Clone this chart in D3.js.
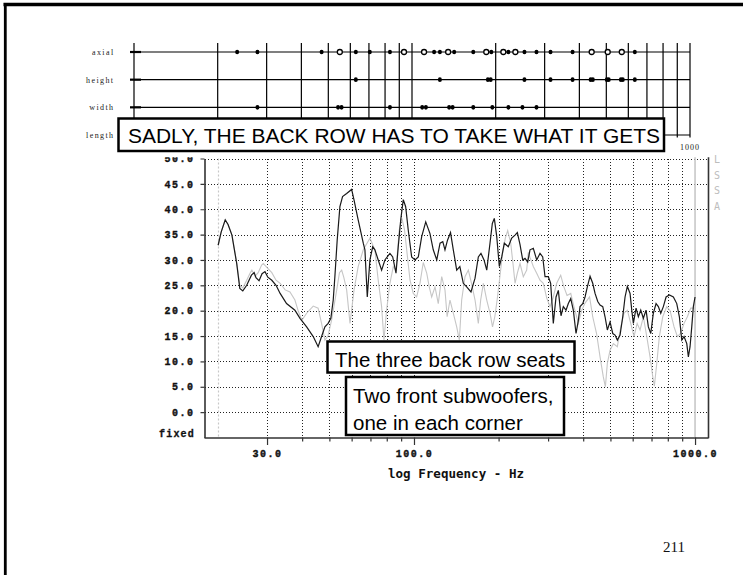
<!DOCTYPE html>
<html><head><meta charset="utf-8">
<script src="https://cdn.jsdelivr.net/npm/d3@7"></script>
<style>body{margin:0;background:#fff}svg{display:block}</style>
</head><body>
<svg id="c" width="743" height="575"></svg>
<script>
// ---------- DATA ----------
const modeRows = ["axial", "height", "width", "length"];
const modeGridFreqs = [10, 20, 30, 40, 50, 60, 70, 80, 90, 100, 200, 300, 400, 500, 600, 700, 800, 900, 1000];
const axialFilled = [23.5, 27.8, 47.3, 62.8, 70.5, 83.3, 120.1, 126.0, 141.8, 166.1, 192.9, 222.2, 253.8, 280.4, 315.0, 378.1, 633.1];
const axialOpen = [55.0, 93.6, 110.5, 134.9, 185.0, 213.1, 235.4, 442.9, 505.8, 568.3];
const heightFilled = [62.8, 126.0, 187.5, 191.9, 253.8, 315.0, 378.1, 439, 447, 502, 510, 564, 573, 633.1];
const widthFilled = [27.8, 54.2, 55.8, 83.3, 108.8, 112.2, 136, 140, 166.1, 194.5, 222.2, 249.6, 280.4];
const lengthFilled = [];

// dark trace: [frequency Hz, level dB]
const darkTrace = [[20.1,32.9],[20.6,35.5],[21.3,37.9],[21.8,37.0],[22.5,34.9],[23.4,29.3],[24.0,24.4],[24.6,23.9],[25.4,25.0],[26.4,27.0],[27.0,27.5],[27.4,26.5],[28.1,25.9],[28.8,27.3],[29.5,27.7],[30.2,26.6],[31.2,26.0],[32.3,25.0],[33.4,23.4],[35.2,21.4],[37.7,20.1],[39.3,18.5],[41.5,16.8],[43.8,14.9],[45.6,12.9],[46.9,14.9],[48.2,16.8],[49.5,17.5],[50.6,18.5],[51.6,22.1],[52.3,26.7],[53.3,33.9],[54.5,40.5],[55.7,42.5],[57.6,43.1],[60.0,43.9],[61.2,41.8],[63.3,37.9],[66.0,33.3],[66.9,32.0],[68.2,22.7],[69.7,30.0],[71.3,32.6],[72.6,32.0],[74.6,30.0],[76.7,28.0],[78.8,30.0],[82.1,31.3],[84.0,30.6],[86.3,27.4],[87.9,32.6],[89.7,37.9],[91.6,41.9],[93.4,40.5],[95.4,35.9],[98.1,30.6],[100.8,30.0],[103.6,30.6],[106.5,34.6],[110.1,37.5],[114,35.2],[117.1,32.0],[120.5,30.0],[123.8,33.3],[126.6,33.6],[128.9,32.0],[131.6,33.9],[134.9,35.4],[138,32.0],[141.9,28.0],[145.6,28.7],[149.8,25.4],[154,24.7],[159.5,23.7],[164.9,26.4],[169.4,30.6],[173.1,31.3],[177.5,30.0],[181.5,28.0],[186.4,33.3],[190,37.2],[193.1,38.2],[197,34.6],[201.2,28.7],[205.2,30.6],[209.6,33.3],[216.5,32.6],[222.7,34.3],[228.8,34.9],[233.2,35.4],[238.4,33.0],[243.7,30.0],[248.3,30.3],[253.9,29.6],[258.7,32.0],[265.8,32.3],[273.3,30.0],[280.8,31.3],[287.1,30.6],[292.6,26.7],[300.6,26.7],[306.4,25.4],[313.1,17.5],[320.2,22.7],[326.3,24.0],[333.5,19.0],[339.9,20.8],[347.5,20.1],[354.1,21.4],[361.2,22.4],[368.9,20.1],[377.2,15.5],[384.4,18.1],[389.8,20.8],[398.5,21.4],[406.1,22.7],[413.8,24.7],[423.1,26.8],[432.5,25.4],[440.8,23.4],[450.6,21.8],[459.2,21.1],[469.5,20.8],[478.4,18.8],[487.5,16.2],[498.4,17.8],[509.6,15.5],[519.3,15.2],[529.1,14.2],[541,15.2],[553.1,18.8],[563.6,22.7],[574.3,24.8],[587.2,23.4],[595.4,20.1],[603.3,17.5],[616.8,20.5],[628.5,18.8],[640.9,20.1],[654.8,18.5],[669.4,20.1],[682.2,16.8],[695.8,15.5],[710.6,19.5],[726.6,21.4],[740.4,20.8],[755.1,19.5],[771.4,20.8],[788.7,22.7],[810.3,23.1],[837.3,22.7],[860.9,21.4],[879.5,18.8],[896.9,14.2],[914,14.9],[934.5,13.5],[946.8,10.9],[959.9,12.9],[973.4,16.8],[986.2,20.8],[1000,22.7]];

// light trace: [frequency Hz, level dB]
const lightTrace = [[20.1,32.9],[20.6,35.5],[21.3,37.9],[21.8,37.0],[22.5,35.0],[23.4,29.5],[24.0,25.0],[24.6,24.5],[25.4,26.0],[26.1,27.4],[26.5,28.0],[27.2,26.8],[27.9,27.5],[28.7,29.0],[29.1,29.3],[29.9,28.6],[31.2,27.5],[32.3,26.0],[33.4,25.4],[34.8,24.1],[36.2,23.7],[37.7,22.1],[38.7,20.0],[39.9,18.1],[41.5,19.5],[43.8,20.9],[45.6,20.5],[46.9,17.5],[48.2,14.2],[49.4,15.0],[50.9,18.1],[53.1,24.1],[54.3,27.5],[55.3,28.0],[56.3,26.5],[57.6,24.1],[59.2,17.5],[61.2,24.1],[63.3,28.7],[66.0,32.0],[69.7,34.3],[72.6,32.0],[74.6,26.0],[76.7,20.8],[78.2,14.2],[79.9,20.1],[82.1,25.4],[84.4,28.7],[86.3,28.0],[88.6,35.9],[90.6,38.2],[92.5,36.0],[94.2,32.0],[96.8,26.0],[99.4,23.4],[102.2,22.7],[105,25.4],[107.9,29.5],[111,27.4],[113.3,24.7],[115.6,22.7],[118.8,24.7],[122,21.4],[125.5,26.7],[128.9,24.1],[131.2,18.8],[134.3,22.1],[138,19.5],[141.9,16.8],[145,14.2],[147.8,22.1],[151.9,26.7],[156.1,28.0],[160.2,25.4],[164.9,22.1],[169.4,17.5],[172.7,22.1],[176.5,25.4],[181.5,22.1],[186.4,19.5],[190.3,16.8],[193.9,18.8],[197.6,22.1],[202.1,26.7],[206.6,31.3],[211.3,34.3],[215.5,35.8],[220.9,33.3],[225.6,28.7],[228.8,25.4],[233.2,27.4],[238.4,29.3],[244.9,26.7],[251.8,28.0],[255.1,31.5],[258.7,30.5],[265.8,28.7],[273.3,27.4],[280.8,26.0],[288.5,25.4],[296.7,22.5],[304.8,20.8],[312.4,22.5],[321.9,25.4],[332.7,27.0],[341.5,24.7],[350.4,23.0],[361.2,23.4],[370.8,20.8],[384.4,17.5],[395.2,20.1],[406.1,21.5],[421.4,22.7],[432.5,18.8],[446.3,15.5],[459.2,10.9],[471.5,7.0],[479.7,5.0],[487.5,9.6],[498.4,12.2],[512.1,13.5],[529.1,12.9],[544.1,16.8],[559,19.5],[574.3,20.1],[590.5,17.5],[606.5,14.9],[622.3,17.5],[637.3,16.2],[654.8,18.8],[673.4,14.9],[691.7,10.9],[707.2,7.0],[716.5,5.1],[730.8,9.6],[746.5,14.9],[767.7,18.8],[793.1,20.8],[815,20.0],[842,16.8],[865.2,14.9],[888.3,15.5],[914,17.5],[939.1,18.8],[965.4,20.5],[992,20.5]];

const yTickValues = [0, 5, 10, 15, 20, 25, 30, 35, 40, 45, 50];
const xTickValues = [30, 40, 50, 60, 70, 80, 90, 100, 200, 300, 400, 500, 600, 700, 800, 900, 1000];
const xMajorTicks = [30, 100, 1000];
const xMajorLabels = ["30.0", "100.0", "1000.0"];
const gridFreqs = [30, 40, 50, 60, 70, 80, 90, 100, 200, 300, 400, 500, 600, 700, 800, 900];
const refLowFreq = 20;
const refHighFreq = 1000;
const sideLetters = ["L", "S", "S", "A"];
const titleText = "SADLY, THE BACK ROW HAS TO TAKE WHAT IT GETS";
const note1 = "The three back row seats";
const note2 = ["Two front subwoofers,", "one in each corner"];
const xTitle = "log Frequency - Hz";
const pageNumber = "211";

// ---------- DRAW ----------
const W = 743, H = 575;
const svg = d3.select("#c");
const monoBold = "'Liberation Mono','DejaVu Sans Mono',monospace";

const x = d3.scaleLog().domain([17.9, 1112]).range([204, 708]);
const y = d3.scaleLinear().domain([-5, 50]).range([437.5, 158.5]);
const xm = d3.scaleLog().domain([10, 1000]).range([134, 690]);
const ym = d3.scalePoint().domain(modeRows).range([52, 135]);

// page border (top + left)
svg.append("line").attr("x1", 3.5).attr("x2", W).attr("y1", 4.5).attr("y2", 4.5)
  .attr("stroke", "#000").attr("stroke-width", 3.5);
svg.append("line").attr("x1", 5.3).attr("x2", 5.3).attr("y1", 3).attr("y2", H)
  .attr("stroke", "#000").attr("stroke-width", 2.8);

const defs = svg.append("defs");
defs.append("clipPath").attr("id", "clipTop").append("rect")
  .attr("x", 0).attr("y", 157.2).attr("width", W).attr("height", H - 157.2);

const g = svg.append("g").attr("clip-path", "url(#clipTop)");

// horizontal dotted grid
g.append("g").selectAll("line").data(yTickValues).join("line")
  .attr("x1", 205).attr("x2", 708)
  .attr("y1", d => Math.round(y(d)) + 0.5).attr("y2", d => Math.round(y(d)) + 0.5)
  .attr("stroke", "#222").attr("stroke-width", 1).attr("stroke-dasharray", "1 2")
  .attr("shape-rendering", "crispEdges");

// vertical dotted grid
g.append("g").selectAll("line").data(gridFreqs).join("line")
  .attr("x1", d => Math.round(x(d)) + 0.5).attr("x2", d => Math.round(x(d)) + 0.5)
  .attr("y1", y(50)).attr("y2", 437)
  .attr("stroke", "#222").attr("stroke-width", 1).attr("stroke-dasharray", "1 2")
  .attr("shape-rendering", "crispEdges");

// 20 Hz and 1000 Hz reference lines
g.append("line").attr("x1", Math.round(x(refLowFreq)) + 0.5).attr("x2", Math.round(x(refLowFreq)) + 0.5)
  .attr("y1", y(50)).attr("y2", 437).attr("stroke", "#c8c8c8").attr("stroke-width", 1.2)
  .attr("stroke-dasharray", "2 2");
g.append("line").attr("x1", x(refHighFreq)).attr("x2", x(refHighFreq))
  .attr("y1", 155).attr("y2", 437).attr("stroke", "#c8c8c8").attr("stroke-width", 1.6);

// traces
const line = d3.line().x(d => x(d[0])).y(d => y(d[1]));
g.append("path").datum(lightTrace).attr("d", line)
  .attr("fill", "none").attr("stroke", "#c6c6c6").attr("stroke-width", 1.1);
g.append("path").datum(darkTrace).attr("d", line)
  .attr("fill", "none").attr("stroke", "#1a1a1a").attr("stroke-width", 1.2);

// y axis
const yAxis = d3.axisLeft(y).tickValues(yTickValues).tickSize(4).tickSizeOuter(0)
  .tickPadding(6).tickFormat(d3.format(".1f"));
const ya = g.append("g").attr("transform", "translate(204.5,0)").call(yAxis);
ya.select(".domain").attr("stroke", "#333").attr("stroke-width", 1.6);
ya.selectAll(".tick line").attr("stroke", "#333").attr("stroke-width", 1.2);
ya.selectAll(".tick text").attr("font-family", monoBold).attr("font-weight", "bold")
  .attr("font-size", 10).attr("letter-spacing", 1.5).attr("fill", "#111")
  .attr("stroke", "#111").attr("stroke-width", 0.35);

// x axis
const xAxis = d3.axisBottom(x).tickValues(xTickValues).tickSize(4).tickSizeOuter(0).tickPadding(8)
  .tickFormat(d => { const i = xMajorTicks.indexOf(d); return i >= 0 ? xMajorLabels[i] : ""; });
const xa = g.append("g").attr("transform", "translate(0,437.5)").call(xAxis);
xa.select(".domain").attr("stroke", "#333").attr("stroke-width", 1.6);
xa.selectAll(".tick line").attr("stroke", "#333").attr("stroke-width", 1.2)
  .attr("y2", d => xMajorTicks.includes(d) ? 7.5 : 4);
xa.selectAll(".tick text").attr("font-family", monoBold).attr("font-weight", "bold")
  .attr("font-size", 10).attr("letter-spacing", 1.5).attr("fill", "#111")
  .attr("stroke", "#111").attr("stroke-width", 0.35);

// right axis
g.append("line").attr("x1", 708.5).attr("x2", 708.5).attr("y1", 155).attr("y2", 438.3)
  .attr("stroke", "#333").attr("stroke-width", 1.6);

// "fixed"
g.append("text").attr("x", 195).attr("y", 437).attr("text-anchor", "end")
  .attr("font-family", monoBold).attr("font-weight", "bold").attr("font-size", 10)
  .attr("letter-spacing", 1.2).attr("fill", "#111").attr("stroke", "#111").attr("stroke-width", 0.3)
  .text("fixed");

// x title
svg.append("text").attr("x", 388).attr("y", 477.5)
  .attr("font-family", "'DejaVu Sans Mono','Liberation Mono',monospace").attr("font-size", 12.5)
  .attr("font-weight", "bold")
  .attr("textLength", 136).attr("lengthAdjust", "spacingAndGlyphs").attr("fill", "#111")
  .text(xTitle);

// side letters
svg.append("g").selectAll("text").data(sideLetters).join("text")
  .attr("x", 717).attr("y", (d, i) => 163 + i * 15.7).attr("text-anchor", "middle")
  .attr("font-family", "'DejaVu Sans Mono',monospace").attr("font-size", 10).attr("fill", "#bdbdbd")
  .text(d => d);

// annotation boxes in plot
function box(x0, y0, w, h) {
  svg.append("rect").attr("x", x0).attr("y", y0).attr("width", w).attr("height", h)
    .attr("fill", "#fff").attr("stroke", "#000").attr("stroke-width", 2.5);
}
const sans = "'Liberation Sans',Arial,sans-serif";
box(327.5, 341.5, 247, 31);
svg.append("text").attr("x", 335).attr("y", 366.5).attr("font-family", sans).attr("font-size", 20.5)
  .attr("fill", "#000").text(note1);
box(346, 377, 218, 58);
svg.append("g").selectAll("text").data(note2).join("text")
  .attr("x", 353).attr("y", (d, i) => 403 + i * 27).attr("font-family", sans).attr("font-size", 20.5)
  .attr("fill", "#000").text(d => d);

// ---------- MODE CHART ----------
const mg = svg.append("g");
mg.selectAll("line.v").data(modeGridFreqs).join("line").attr("class", "v")
  .attr("x1", d => xm(d)).attr("x2", d => xm(d)).attr("y1", 43).attr("y2", 137.5)
  .attr("stroke", "#000").attr("stroke-width", 1.2);
mg.selectAll("line.h").data(modeRows).join("line").attr("class", "h")
  .attr("x1", xm(10)).attr("x2", xm(1000)).attr("y1", d => ym(d)).attr("y2", d => ym(d))
  .attr("stroke", "#000").attr("stroke-width", 1.2);
mg.selectAll("line.s").data(modeRows).join("line").attr("class", "s")
  .attr("x1", xm(10) - 4).attr("x2", xm(10) + 7).attr("y1", d => ym(d)).attr("y2", d => ym(d))
  .attr("stroke", "#000").attr("stroke-width", 2.2);
mg.selectAll("text.r").data(modeRows).join("text").attr("class", "r")
  .attr("x", 114.5).attr("y", d => ym(d) + 3).attr("text-anchor", "end")
  .attr("font-family", "'Liberation Serif','Times New Roman',serif").attr("font-size", 8)
  .attr("letter-spacing", 1.4).attr("fill", "#222").text(d => d);

const filledSets = [["axial", axialFilled], ["height", heightFilled], ["width", widthFilled], ["length", lengthFilled]];
filledSets.forEach(([row, arr]) => {
  mg.append("g").selectAll("ellipse").data(arr).join("ellipse")
    .attr("cx", d => xm(d)).attr("cy", ym(row)).attr("rx", 2).attr("ry", 2.3).attr("fill", "#000");
});
mg.append("g").selectAll("circle").data(axialOpen).join("circle")
  .attr("cx", d => xm(d)).attr("cy", ym("axial")).attr("r", 2.5)
  .attr("fill", "#fff").attr("stroke", "#000").attr("stroke-width", 1.3);

mg.append("text").attr("x", xm(1000)).attr("y", 149.5).attr("text-anchor", "middle")
  .attr("font-family", "'Liberation Serif',serif").attr("font-size", 8).attr("letter-spacing", 1)
  .attr("fill", "#222").text("1000");

// title box
box(118.5, 118.5, 545.5, 32.5);
svg.append("text").attr("x", 128).attr("y", 142.5).attr("font-family", sans).attr("font-size", 20.5)
  .attr("textLength", 532).attr("lengthAdjust", "spacingAndGlyphs").attr("fill", "#000").text(titleText);

// page number
svg.append("text").attr("x", 674).attr("y", 552).attr("text-anchor", "middle")
  .attr("font-family", "'Liberation Serif','Times New Roman',serif").attr("font-size", 15)
  .attr("fill", "#111").text(pageNumber);
</script>
</body></html>
